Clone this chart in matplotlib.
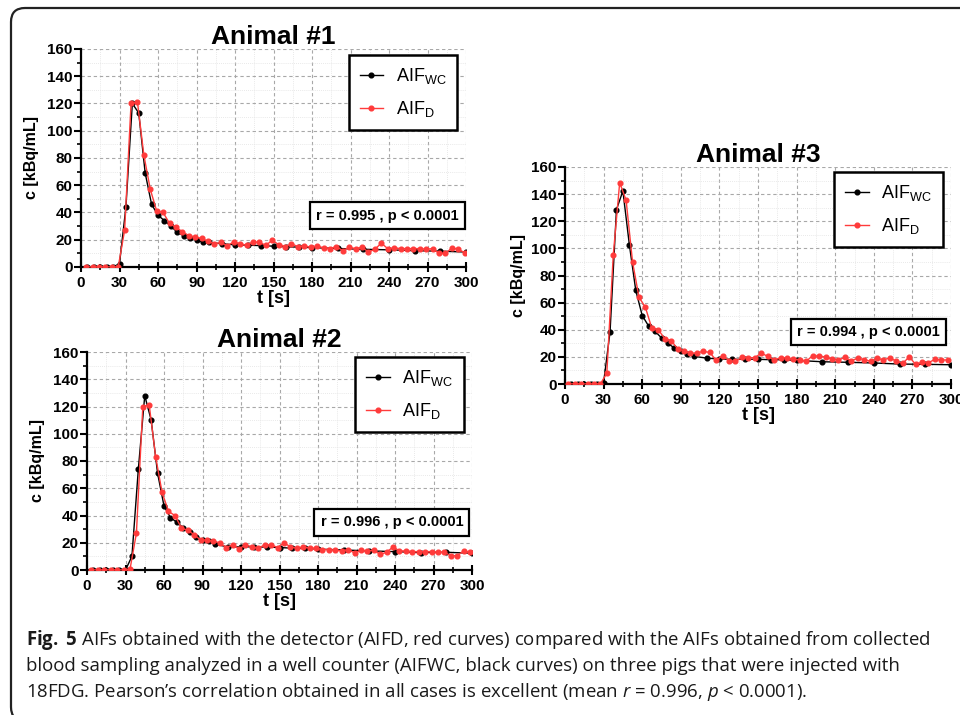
import matplotlib
matplotlib.use("Agg")
import matplotlib.pyplot as plt
from matplotlib.patches import FancyBboxPatch
from matplotlib.transforms import IdentityTransform

plt.rcParams['mathtext.fontset'] = 'custom'
plt.rcParams['mathtext.rm'] = 'Open Sans'
plt.rcParams['mathtext.it'] = 'Open Sans:italic'
plt.rcParams['mathtext.bf'] = 'Open Sans:bold'

NARROW = ['Liberation Sans Narrow', 'Liberation Sans', 'DejaVu Sans']
WIDE = ['Liberation Sans', 'DejaVu Sans']

# sampling times of the well counter (black) and detector (red) curves
t_wc = [5, 10, 15, 20, 25, 30, 35, 40, 45, 50, 55, 60, 65, 70, 75, 80, 85, 90, 95, 100,
        110, 120, 130, 140, 150, 160, 170, 180, 200, 220, 240, 260, 280, 300]
t_d = [4, 9, 14, 19, 24, 29, 34, 39, 44, 49, 54, 59, 64, 69, 74, 79, 84, 89, 94, 99,
       104, 109, 114, 119, 124, 129, 134, 139, 144, 149, 154, 159, 164, 169, 174, 179,
       184, 189, 194, 199, 204, 209, 214, 219, 224, 229, 234, 239, 244, 249, 254, 259,
       264, 269, 274, 279, 284, 289, 294, 299]
t_d_shift = [0, -0.5, -1.5]

wc1 = [0, 0, 0, 0, 0, 2.5, 44, 120, 113, 69, 46, 38, 34, 30, 25.5, 23, 21.5, 20, 18, 18,
       17, 16.3, 16, 15.7, 15.3, 14.8, 14.6, 14.2, 13.6, 13, 12.6, 12, 11.6, 11]
wc2 = [0, 0, 0, 0, 0, 0, 10, 74, 128, 110, 71, 47, 38.5, 35, 31, 28, 24, 22.3, 21, 19,
       16.8, 17, 17, 16.8, 16.5, 16, 16, 15.3, 14.7, 14, 13.5, 12.8, 13, 12.3]
wc3 = [0, 0, 0, 0, 0, 1, 38.3, 128.6, 142.3, 102.8, 69, 50.5, 42.7, 38.8, 34, 30, 26.5,
       24.3, 22.3, 20.4, 19.1, 18.4, 18.2, 18.2, 18.2, 17.9, 17.9, 17.4, 16.4, 16, 15.5,
       14.7, 14.5, 14.2]

d1 = [0, 0, 0, 0, 0, 0, 27, 120, 121, 82, 57, 41, 40, 32, 29, 26, 23, 22, 21, 19,
      17, 18, 15.5, 18.5, 17, 16, 18.5, 18, 16, 19.5, 16.5, 15, 17, 15, 15.5, 14.5,
      15.5, 14, 13.5, 15, 12, 14.5, 13.5, 14.5, 11, 13, 17.5, 13.5, 14, 13.5, 13.5, 13.5,
      13.5, 13, 13.5, 10, 10, 14, 13, 10.5]
d2 = [0, 0, 0, 0, 0, 0, 0.5, 27, 120, 121, 83, 57, 43, 40, 31, 29, 26, 22, 22, 21,
      20, 16.5, 18.5, 15.5, 18.5, 17, 16, 18.5, 18.5, 16.5, 20, 17, 16, 17, 16, 16,
      15, 15, 14.5, 14, 15, 12.5, 14.5, 14, 14.5, 11.5, 13, 17, 14, 14, 13.5, 13.5,
      13.5, 13.5, 13, 13, 10.5, 10.5, 14, 13]
d3 = [0, 0, 0, 0, 0, 0, 8, 95, 148.5, 135.5, 90, 64, 56.5, 41, 40, 33.5, 32, 26, 24.5, 22.5,
      23, 24, 23.3, 17.4, 21, 17.2, 16.7, 19.6, 19.4, 19.4, 22.8, 20.4, 17.7, 19.4, 19.4, 18.2,
      18, 16.7, 21, 20.4, 20, 18.4, 17.7, 19.6, 17.2, 19, 18, 16.7, 19.1, 17.7, 19.4, 16.7,
      15.2, 20, 14.5, 16, 15.7, 18.2, 17.7, 17.7]

titles = ['Animal #1', 'Animal #2', 'Animal #3']
r_labels = ['r = 0.995 , p < 0.0001', 'r = 0.996 , p < 0.0001', 'r = 0.994 , p < 0.0001']
x_ticks = [0, 30, 60, 90, 120, 150, 180, 210, 240, 270, 300]
y_ticks = [0, 20, 40, 60, 80, 100, 120, 140, 160]

caption = [r"$\bf{Fig.}$ $\bf{5}$ AIFs obtained with the detector (AIFD, red curves) compared with the AIFs obtained from collected",
           "blood sampling analyzed in a well counter (AIFWC, black curves) on three pigs that were injected with",
           r"18FDG. Pearson’s correlation obtained in all cases is excellent (mean $r$ = 0.996, $p$ < 0.0001)."]

W, H = 960, 715
fig = plt.figure(figsize=(W / 100, H / 100), dpi=100)


def px_axes(left, top, right, bottom):
    return fig.add_axes([left / W, 1 - bottom / H, (right - left) / W, (bottom - top) / H])


# axes boxes in pixels: left, top, right, bottom
boxes = [(81, 49, 466, 267), (87, 352, 472, 570), (565, 167, 951, 384)]
# (legend anchor, r-box text anchor, ylabel x) in axes fractions
places = [((0.977, 0.972), (0.982, 0.236), -0.11),
          ((0.979, 0.977), (0.977, 0.218), -0.11),
          ((0.979, 0.977), (0.971, 0.240), -0.10)]
wc_all = [wc1, wc2, wc3]
d_all = [d1, d2, d3]

for i in range(3):
    ax = px_axes(*boxes[i])
    td = [t + t_d_shift[i] for t in t_d]
    ax.plot(t_wc, wc_all[i], color='black', lw=1.0, marker='o', ms=3.4,
            label=r'AIF$_{\mathregular{WC}}$', zorder=3)
    ax.plot(td, d_all[i], color='#ff3b3b', lw=1.0, marker='o', ms=3.4,
            label=r'AIF$_{\mathregular{D}}$', zorder=4)

    ax.set_xlim(0, 300)
    ax.set_ylim(0, 160)
    ax.set_xticks(x_ticks)
    ax.set_xticks(range(15, 300, 30), minor=True)
    ax.set_yticks(y_ticks)
    ax.set_yticks(range(10, 160, 20), minor=True)

    ax.grid(True, which='major', color='#a8a8a8', lw=0.8, ls=(0, (3, 2.5)))
    ax.grid(True, which='minor', color='#e2e2e2', lw=0.6, ls=(0, (1, 1.5)))
    ax.set_axisbelow(True)
    for s in ['top', 'right']:
        ax.spines[s].set_visible(False)
    for s in ['left', 'bottom']:
        ax.spines[s].set_linewidth(1.6)

    ax.tick_params(axis='x', which='major', direction='inout', length=7, width=1.5, pad=3)
    ax.tick_params(axis='x', which='minor', direction='inout', length=4, width=1.2)
    ax.tick_params(axis='y', which='major', direction='out', length=5, width=1.5, pad=1)
    ax.tick_params(axis='y', which='minor', direction='out', length=3, width=1.2)
    for lab in ax.get_xticklabels() + ax.get_yticklabels():
        lab.set_fontfamily(NARROW)
        lab.set_fontweight('bold')
        lab.set_fontsize(11)

    ax.set_title(titles[i], family=WIDE, fontweight='bold', fontsize=19, pad=2)
    ax.set_xlabel('t [s]', family=NARROW, fontweight='bold', fontsize=13, labelpad=0)
    ax.set_ylabel('c [kBq/mL]', family=NARROW, fontweight='bold', fontsize=11.5)
    ax.yaxis.set_label_coords(places[i][2], 0.5)

    leg = ax.legend(loc='upper right', bbox_to_anchor=places[i][0], borderaxespad=0,
                    prop={'family': WIDE, 'size': 13}, fancybox=False, framealpha=1,
                    edgecolor='black', handlelength=1.3, labelspacing=0.75,
                    borderpad=0.6, handletextpad=0.7)
    leg.get_frame().set_linewidth(1.8)

    ax.text(places[i][1][0], places[i][1][1], r_labels[i], transform=ax.transAxes,
            ha='right', va='center', family=NARROW, fontweight='bold', fontsize=10.5,
            bbox=dict(boxstyle='square,pad=0.42', fc='white', ec='black', lw=1.6), zorder=6)

# caption
for k, line in enumerate(caption):
    fig.text(26 / W, 1 - (640 + 26 * k) / H, line, ha='left', va='center',
             family=['Open Sans', 'DejaVu Sans'], fontsize=13.4, color='#1a1a1a')

# rounded frame around the whole figure
frame = FancyBboxPatch((11, -6), 975, 713, boxstyle='round,pad=0,rounding_size=14',
                       transform=IdentityTransform(), fill=False, ec='#222222', lw=1.6)
fig.add_artist(frame)

fig.savefig('out.png', dpi=100)
